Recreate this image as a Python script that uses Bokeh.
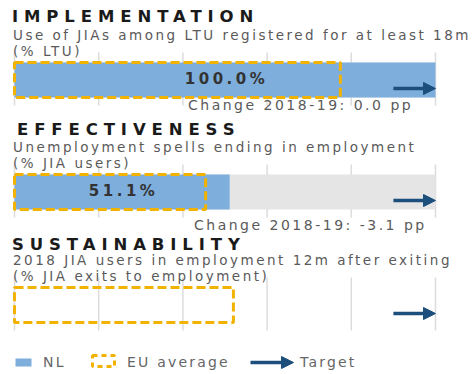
from bokeh.plotting import figure
from bokeh.models import Range1d, Div, ColumnDataSource, Arrow, NormalHead
from bokeh.layouts import column
from bokeh.embed import file_html
from bokeh.resources import INLINE

# ---- data -------------------------------------------------------------
titles = ["IMPLEMENTATION", "EFFECTIVENESS", "SUSTAINABILITY"]
subtitle_line1 = ["Use of JIAs among LTU registered for at least 18m",
                  "Unemployment spells ending in employment",
                  "2018 JIA users in employment 12m after exiting"]
subtitle_line2 = ["(% LTU)", "(% JIA users)", "(% JIA exits to employment)"]
nl_values = [100.0, 51.1, None]        # NL
eu_average = [77.4, 45.4, 52.0]        # EU average
targets = [100.0, 100.0, 100.0]        # Target
changes = [0.0, -3.1, None]            # change 2018-19, pp
ticks = [0, 20, 40, 60, 80, 100]
legend_labels = ["NL", "EU average", "Target"]

# ---- styling / layout ---------------------------------------------------
W, H = 473, 374
X0, X100 = 14, 435                      # pixel position of 0 % and 100 %
PPU = (X100 - X0) / 100.0
BLUE = "#7DAEDC"
GOLD = "#F2B300"
NAVY = "#1D4F7C"
TRACK = "#E5E5E5"
GRID = "#DCDCDC"
FONT = "DejaVu Sans"

bar_top = [62, 174, 287]
bar_h = 35
title_x = [12, 17, 12]
title_base = [23, 136, 251]
sub_base = [(40, 56), (152, 168), (265, 281)]
change_x = [188, 194]
change_base = [110, 230]
legend_y = 362


def px_to_x(px):
    return (px - X0) / PPU


p = figure(width=W, height=H, x_range=Range1d(px_to_x(0), px_to_x(W)),
           y_range=Range1d(H, 0), output_backend="svg", toolbar_location=None,
           min_border=0, x_axis_location=None, y_axis_location=None)
p.grid.visible = False
p.outline_line_color = None
p.background_fill_color = None
p.border_fill_color = None

# grid lines behind each panel
gx0, gx1, gy0, gy1 = [], [], [], []
for top in bar_top:
    for t in ticks:
        gx0.append(t); gx1.append(t)
        gy0.append(top - 10); gy1.append(top + 43)
p.segment(x0=gx0, y0=gy0, x1=gx1, y1=gy1, line_color=GRID, line_width=1.5)

# grey track and NL bars
tr = dict(left=[], right=[], top=[], bottom=[])
nl = dict(left=[], right=[], top=[], bottom=[])
for i, v in enumerate(nl_values):
    if v is None:
        continue
    tr["left"].append(0); tr["right"].append(100)
    tr["top"].append(bar_top[i]); tr["bottom"].append(bar_top[i] + bar_h)
    nl["left"].append(0); nl["right"].append(v)
    nl["top"].append(bar_top[i]); nl["bottom"].append(bar_top[i] + bar_h)
p.quad(source=ColumnDataSource(tr), left="left", right="right", top="top",
       bottom="bottom", fill_color=TRACK, line_color=None)
p.quad(source=ColumnDataSource(nl), left="left", right="right", top="top",
       bottom="bottom", fill_color=BLUE, line_color=None)

# EU average dashed outlines
eu = dict(left=[0] * 3, right=eu_average,
          top=bar_top, bottom=[t + bar_h for t in bar_top])
p.quad(source=ColumnDataSource(eu), left="left", right="right", top="top",
       bottom="bottom", fill_color=None, line_color=GOLD, line_width=3,
       line_dash="9 4")

# target arrows
for i, tgt in enumerate(targets):
    p.add_layout(Arrow(end=NormalHead(size=12, fill_color=NAVY, line_color=NAVY),
                       x_start=tgt - 10, x_end=tgt, y_start=bar_top[i] + 26,
                       y_end=bar_top[i] + 26, line_color=NAVY, line_width=3.5))

# legend swatches
p.quad(left=[px_to_x(15)], right=[px_to_x(31)], top=[358], bottom=[366],
       fill_color=BLUE, line_color=None)
p.quad(left=[px_to_x(92)], right=[px_to_x(114)], top=[355], bottom=[366],
       fill_color=None, line_color=GOLD, line_width=3, line_dash="5 4")
p.add_layout(Arrow(end=NormalHead(size=12, fill_color=NAVY, line_color=NAVY),
                   x_start=px_to_x(250), x_end=px_to_x(293), y_start=legend_y,
                   y_end=legend_y, line_color=NAVY, line_width=3.5))

# ---- texts (HTML, so that letter spacing can be set) --------------------
LH = 0.9


def text_el(txt, x, base, fs, ls, color, bold=False, center=False):
    top = base - ((LH - 1.164) / 2 + 0.928) * fs
    tf = "transform:translateX(-50%);" if center else ""
    w = "bold" if bold else "normal"
    return (f'<div style="position:absolute;left:{x:.1f}px;top:{top:.1f}px;'
            f"font-family:'{FONT}';font-size:{fs}px;font-weight:{w};"
            f'letter-spacing:{ls}px;color:{color};white-space:nowrap;'
            f'line-height:{LH};{tf}">{txt}</div>')


parts = []
for i in range(3):
    parts.append(text_el(titles[i], title_x[i], title_base[i], 16.5, 5.9, "#1a1a1a", bold=True))
    parts.append(text_el(subtitle_line1[i], 13, sub_base[i][0], 13.5, 2.5, "#5a5a5a"))
    parts.append(text_el(subtitle_line2[i], 13, sub_base[i][1], 13.5, 2.5, "#5a5a5a"))
for i, v in enumerate(nl_values):
    if v is None:
        continue
    cx = X0 + v / 2 * PPU + 2
    parts.append(text_el(f"{v:.1f}%", cx, bar_top[i] + bar_h / 2 + 5.5, 15, 3.5,
                         "#333333", bold=True, center=True))
for i, c in enumerate(changes):
    if c is None:
        continue
    parts.append(text_el(f"Change 2018-19: {c:.1f} pp", change_x[i], change_base[i],
                         14, 2.5, "#5a5a5a"))
legend_x = [43, 127, 300]
for lab, lx in zip(legend_labels, legend_x):
    parts.append(text_el(lab, lx, legend_y + 5, 14, 2.2, "#666666"))

overlay = Div(text=f'<div style="position:relative;width:{W}px;height:{H}px">'
                   + "".join(parts) + "</div>",
              width=W, height=H, margin=0,
              styles={"position": "absolute", "left": "0px", "top": "0px",
                      "pointer-events": "none"})

layout = column(p, overlay, margin=0)
open("out.html", "w").write(file_html(layout, INLINE))
